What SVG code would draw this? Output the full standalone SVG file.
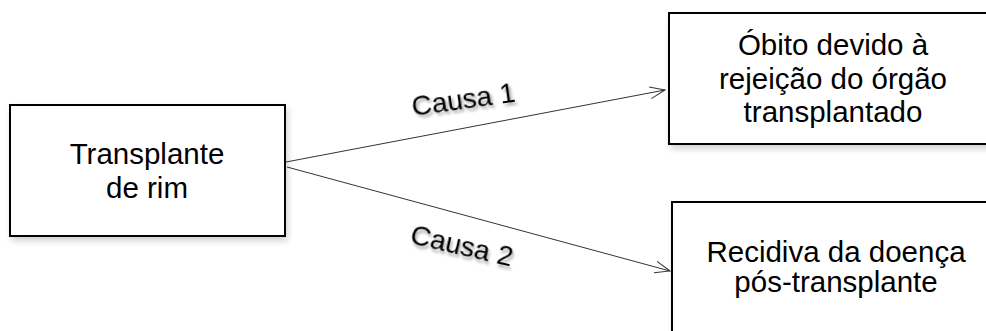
<svg xmlns="http://www.w3.org/2000/svg" width="986" height="331" viewBox="0 0 986 331">
  <defs>
    <filter id="boxShadow" x="-10%" y="-10%" width="130%" height="140%">
      <feGaussianBlur in="SourceAlpha" stdDeviation="3"/>
      <feOffset dx="2" dy="4" result="blur"/>
      <feComponentTransfer><feFuncA type="linear" slope="0.18"/></feComponentTransfer>
      <feMerge><feMergeNode/><feMergeNode in="SourceGraphic"/></feMerge>
    </filter>
    <filter id="textShadow" x="-10%" y="-30%" width="130%" height="180%">
      <feGaussianBlur in="SourceAlpha" stdDeviation="1.8"/>
      <feOffset dx="2" dy="3"/>
      <feComponentTransfer><feFuncA type="linear" slope="0.35"/></feComponentTransfer>
      <feMerge><feMergeNode/><feMergeNode in="SourceGraphic"/></feMerge>
    </filter>
    <marker id="openArrow" markerWidth="18" markerHeight="14" refX="16" refY="7" orient="auto" markerUnits="userSpaceOnUse">
      <path d="M1,1 L16,7 L1,13" fill="none" stroke="#333" stroke-width="1"/>
    </marker>
  </defs>
  <style>
    .box { fill: #fff; stroke: #000; stroke-width: 2; }
    .label { font-family: "Liberation Sans", Arial, sans-serif; font-size: 29.5px; fill: #000; text-anchor: middle; }
    .cause { font-family: "Liberation Sans", Arial, sans-serif; font-size: 28px; fill: #000; }
    .link { fill: none; stroke: #333; stroke-width: 1; }
  </style>
  <rect width="986" height="331" fill="#fff"/>

  <g id="connectors">
    <line class="link" x1="286" y1="162" x2="665" y2="90" marker-end="url(#openArrow)"/>
    <line class="link" x1="287" y1="167" x2="670" y2="271" marker-end="url(#openArrow)"/>
    <text class="cause" filter="url(#textShadow)" transform="translate(413,116) rotate(-8)">Causa 1</text>
    <text class="cause" filter="url(#textShadow)" transform="translate(409,243) rotate(13)">Causa 2</text>
  </g>

  <g id="transplante">
    <rect class="box" filter="url(#boxShadow)" x="10" y="105" width="275" height="131"/>
    <text class="label" x="147" y="164">Transplante</text>
    <text class="label" x="147" y="198">de rim</text>
  </g>

  <g id="obito">
    <rect class="box" filter="url(#boxShadow)" x="669" y="13" width="330" height="131"/>
    <text class="label" x="833" y="55">Óbito devido à</text>
    <text class="label" x="833" y="89">rejeição do órgão</text>
    <text class="label" x="833" y="122">transplantado</text>
  </g>

  <g id="recidiva">
    <rect class="box" filter="url(#boxShadow)" x="672" y="202" width="330" height="150"/>
    <text class="label" x="836" y="262">Recidiva da doença</text>
    <text class="label" x="836" y="292">pós-transplante</text>
  </g>
</svg>
